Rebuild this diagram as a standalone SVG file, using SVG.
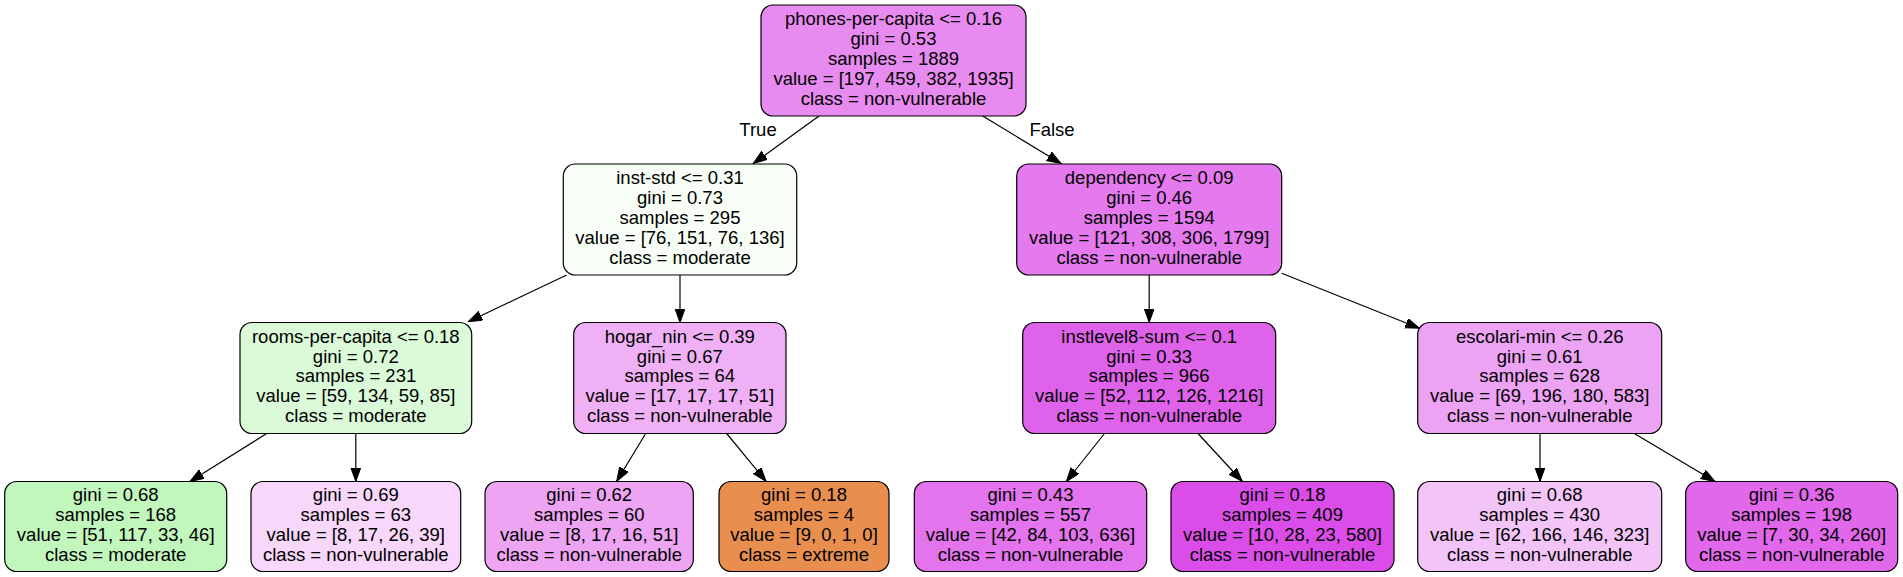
<svg xmlns="http://www.w3.org/2000/svg" width="1903" height="577" viewBox="0 0 1903 577">
<style>
.n{stroke:#000;stroke-width:1.2}
.t{font-family:"Liberation Sans",Helvetica,Arial,sans-serif;font-size:18.5px;text-anchor:middle;fill:#000}
.e{stroke:#000;stroke-width:1.2;fill:none;marker-end:url(#ah)}
</style>
<defs>
<marker id="ah" markerUnits="userSpaceOnUse" markerWidth="15" markerHeight="11" refX="14" refY="5" orient="auto">
<path d="M0,0 L14,5 L0,10 z" fill="#000" stroke="#000" stroke-width="1"/>
</marker>
</defs>
<rect width="1903" height="577" fill="#fff"/>
<g id="connectors">
<line class="e" x1="819" y1="116" x2="753.3" y2="163.5"/>
<line class="e" x1="982.7" y1="116" x2="1061" y2="163.5"/>
<line class="e" x1="566.7" y1="275" x2="468.3" y2="321.7"/>
<line class="e" x1="680" y1="275" x2="680" y2="322.5"/>
<line class="e" x1="1149.2" y1="275" x2="1149.2" y2="322.5"/>
<line class="e" x1="1281.7" y1="273.3" x2="1419.3" y2="328.3"/>
<line class="e" x1="266.7" y1="433.5" x2="190" y2="481.5"/>
<line class="e" x1="355.8" y1="433.5" x2="355.8" y2="481.5"/>
<line class="e" x1="645.7" y1="433.5" x2="616.7" y2="481.3"/>
<line class="e" x1="726.7" y1="433.5" x2="766" y2="481.3"/>
<line class="e" x1="1104.5" y1="433.5" x2="1066.3" y2="481.5"/>
<line class="e" x1="1198" y1="433.5" x2="1242.3" y2="481.5"/>
<line class="e" x1="1540" y1="433.5" x2="1540" y2="481.5"/>
<line class="e" x1="1634.3" y1="433.5" x2="1715" y2="481.5"/>
<text class="t" x="758" y="135.7">True</text>
<text class="t" x="1052" y="135.7">False</text>
</g>
<g id="n0">
<rect class="n" x="761" y="5" width="265" height="111" rx="12" fill="#e88bf0"/>
<text class="t" x="893.5" y="25.3">phones-per-capita &lt;= 0.16</text>
<text class="t" x="893.5" y="45.1">gini = 0.53</text>
<text class="t" x="893.5" y="64.9">samples = 1889</text>
<text class="t" x="893.5" y="84.7">value = [197, 459, 382, 1935]</text>
<text class="t" x="893.5" y="104.5">class = non-vulnerable</text>
</g>
<g id="n1">
<rect class="n" x="563.3" y="164" width="233.4" height="111" rx="12" fill="#f6fef5"/>
<text class="t" x="680" y="184.3">inst-std &lt;= 0.31</text>
<text class="t" x="680" y="204.1">gini = 0.73</text>
<text class="t" x="680" y="223.9">samples = 295</text>
<text class="t" x="680" y="243.7">value = [76, 151, 76, 136]</text>
<text class="t" x="680" y="263.5">class = moderate</text>
</g>
<g id="n2">
<rect class="n" x="1016.7" y="164" width="265" height="111" rx="12" fill="#e47aee"/>
<text class="t" x="1149.2" y="184.3">dependency &lt;= 0.09</text>
<text class="t" x="1149.2" y="204.1">gini = 0.46</text>
<text class="t" x="1149.2" y="223.9">samples = 1594</text>
<text class="t" x="1149.2" y="243.7">value = [121, 308, 306, 1799]</text>
<text class="t" x="1149.2" y="263.5">class = non-vulnerable</text>
</g>
<g id="n3">
<rect class="n" x="240" y="322.5" width="231.7" height="111" rx="12" fill="#dbfad8"/>
<text class="t" x="355.8" y="342.8">rooms-per-capita &lt;= 0.18</text>
<text class="t" x="355.8" y="362.6">gini = 0.72</text>
<text class="t" x="355.8" y="382.4">samples = 231</text>
<text class="t" x="355.8" y="402.2">value = [59, 134, 59, 85]</text>
<text class="t" x="355.8" y="422">class = moderate</text>
</g>
<g id="n4">
<rect class="n" x="573.7" y="322.5" width="212.3" height="111" rx="12" fill="#efb0f5"/>
<text class="t" x="679.8" y="342.8">hogar_nin &lt;= 0.39</text>
<text class="t" x="679.8" y="362.6">gini = 0.67</text>
<text class="t" x="679.8" y="382.4">samples = 64</text>
<text class="t" x="679.8" y="402.2">value = [17, 17, 17, 51]</text>
<text class="t" x="679.8" y="422">class = non-vulnerable</text>
</g>
<g id="n5">
<rect class="n" x="1022.7" y="322.5" width="253" height="111" rx="12" fill="#df63ea"/>
<text class="t" x="1149.2" y="342.8">instlevel8-sum &lt;= 0.1</text>
<text class="t" x="1149.2" y="362.6">gini = 0.33</text>
<text class="t" x="1149.2" y="382.4">samples = 966</text>
<text class="t" x="1149.2" y="402.2">value = [52, 112, 126, 1216]</text>
<text class="t" x="1149.2" y="422">class = non-vulnerable</text>
</g>
<g id="n6">
<rect class="n" x="1417.7" y="322.5" width="244" height="111" rx="12" fill="#eca3f3"/>
<text class="t" x="1539.7" y="342.8">escolari-min &lt;= 0.26</text>
<text class="t" x="1539.7" y="362.6">gini = 0.61</text>
<text class="t" x="1539.7" y="382.4">samples = 628</text>
<text class="t" x="1539.7" y="402.2">value = [69, 196, 180, 583]</text>
<text class="t" x="1539.7" y="422">class = non-vulnerable</text>
</g>
<g id="n7">
<rect class="n" x="4.7" y="481.5" width="222" height="90" rx="12" fill="#c1f6bc"/>
<text class="t" x="115.7" y="501.3">gini = 0.68</text>
<text class="t" x="115.7" y="521.1">samples = 168</text>
<text class="t" x="115.7" y="540.9">value = [51, 117, 33, 46]</text>
<text class="t" x="115.7" y="560.7">class = moderate</text>
</g>
<g id="n8">
<rect class="n" x="251" y="481.5" width="209.7" height="90" rx="12" fill="#f7d7fa"/>
<text class="t" x="355.8" y="501.3">gini = 0.69</text>
<text class="t" x="355.8" y="521.1">samples = 63</text>
<text class="t" x="355.8" y="540.9">value = [8, 17, 26, 39]</text>
<text class="t" x="355.8" y="560.7">class = non-vulnerable</text>
</g>
<g id="n9">
<rect class="n" x="485" y="481.5" width="208.3" height="90" rx="12" fill="#eda5f3"/>
<text class="t" x="589.2" y="501.3">gini = 0.62</text>
<text class="t" x="589.2" y="521.1">samples = 60</text>
<text class="t" x="589.2" y="540.9">value = [8, 17, 16, 51]</text>
<text class="t" x="589.2" y="560.7">class = non-vulnerable</text>
</g>
<g id="n10">
<rect class="n" x="719" y="481.5" width="170" height="90" rx="12" fill="#e88f4f"/>
<text class="t" x="804" y="501.3">gini = 0.18</text>
<text class="t" x="804" y="521.1">samples = 4</text>
<text class="t" x="804" y="540.9">value = [9, 0, 1, 0]</text>
<text class="t" x="804" y="560.7">class = extreme</text>
</g>
<g id="n11">
<rect class="n" x="914.3" y="481.5" width="232.4" height="90" rx="12" fill="#e374ed"/>
<text class="t" x="1030.5" y="501.3">gini = 0.43</text>
<text class="t" x="1030.5" y="521.1">samples = 557</text>
<text class="t" x="1030.5" y="540.9">value = [42, 84, 103, 636]</text>
<text class="t" x="1030.5" y="560.7">class = non-vulnerable</text>
</g>
<g id="n12">
<rect class="n" x="1171" y="481.5" width="223" height="90" rx="12" fill="#db4de8"/>
<text class="t" x="1282.5" y="501.3">gini = 0.18</text>
<text class="t" x="1282.5" y="521.1">samples = 409</text>
<text class="t" x="1282.5" y="540.9">value = [10, 28, 23, 580]</text>
<text class="t" x="1282.5" y="560.7">class = non-vulnerable</text>
</g>
<g id="n13">
<rect class="n" x="1417.7" y="481.5" width="244" height="90" rx="12" fill="#f3c4f7"/>
<text class="t" x="1539.7" y="501.3">gini = 0.68</text>
<text class="t" x="1539.7" y="521.1">samples = 430</text>
<text class="t" x="1539.7" y="540.9">value = [62, 166, 146, 323]</text>
<text class="t" x="1539.7" y="560.7">class = non-vulnerable</text>
</g>
<g id="n14">
<rect class="n" x="1685.7" y="481.5" width="212" height="90" rx="12" fill="#e168eb"/>
<text class="t" x="1791.7" y="501.3">gini = 0.36</text>
<text class="t" x="1791.7" y="521.1">samples = 198</text>
<text class="t" x="1791.7" y="540.9">value = [7, 30, 34, 260]</text>
<text class="t" x="1791.7" y="560.7">class = non-vulnerable</text>
</g>
</svg>
